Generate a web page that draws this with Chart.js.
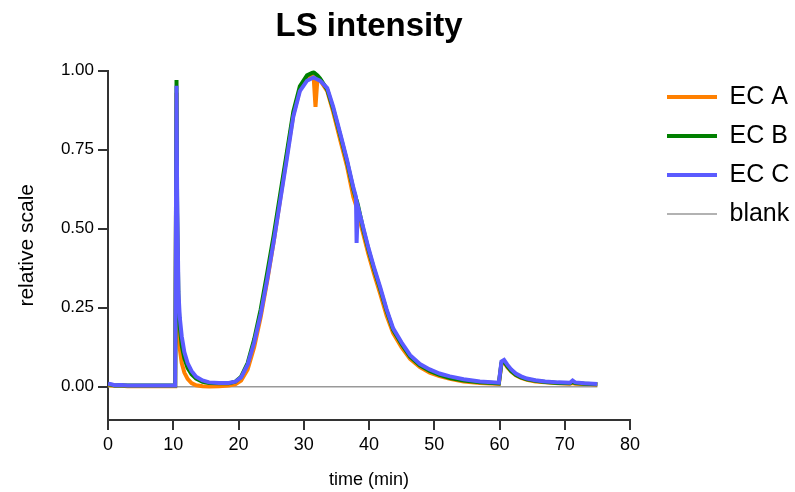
<!DOCTYPE html>
<html lang="en">
<head>
  <meta charset="UTF-8">
  <title>LS intensity</title>
  <script src="https://cdn.jsdelivr.net/npm/chart.js@4.4.1/dist/chart.umd.min.js"></script>
  <style>
    body { margin: 0; background: #fff; }
    #wrap { width: 795px; height: 492px; }
  </style>
</head>
<body>
  <div id="wrap"><canvas id="chart" width="795" height="492"></canvas></div>
  <script>
    // time (min), shared by the three EC traces
    const times = [0, 0.5, 1, 2, 3, 5, 7, 9, 10.3, 10.5,
      10.6, 10.8, 11.0, 11.3, 11.7, 12.2, 12.8, 13.5, 14.5, 15.5,
      17, 18.5, 19.5, 20.4, 21.4, 22.4, 23.4, 24.4, 25.4, 26.4,
      27.4, 28.4, 29.4, 30.5, 31.5, 31.8, 32.1, 32.5, 33.6, 34.5,
      35.6, 36.6, 37.6, 38.0, 38.1, 38.3, 39.1, 39.9, 40.8, 41.7,
      42.7, 43.7, 45, 46.3, 47.8, 49.3, 50.8, 52.4, 54.5, 57,
      59.9, 60.3, 60.7, 61.2, 61.8, 62.5, 63.3, 64.2, 65.5, 67,
      69, 70.8, 71.2, 71.6, 73, 75];

    const ecA = [0.006, 0.004, 0.003, 0.003, 0.002, 0.002, 0.002, 0.002, 0.002, 0.93,
      0.35, 0.19, 0.12, 0.075, 0.045, 0.025, 0.012, 0.005, 0.002, 0.001,
      0.002, 0.004, 0.008, 0.02, 0.055, 0.125, 0.22, 0.335, 0.46, 0.595,
      0.73, 0.86, 0.94, 0.975, 0.985, 0.885, 0.975, 0.97, 0.935, 0.87,
      0.78, 0.70, 0.60, 0.575, 0.57, 0.55, 0.485, 0.42, 0.355, 0.295,
      0.225, 0.17, 0.125, 0.088, 0.062, 0.045, 0.034, 0.025, 0.017, 0.012,
      0.009, 0.072, 0.078, 0.062, 0.048, 0.036, 0.028, 0.022, 0.017, 0.014,
      0.011, 0.010, 0.012, 0.010, 0.009, 0.007];

    const ecB = [0.008, 0.006, 0.004, 0.005, 0.004, 0.004, 0.004, 0.004, 0.004, 0.97,
      0.55, 0.27, 0.19, 0.13, 0.09, 0.06, 0.04, 0.026, 0.016, 0.012,
      0.011, 0.011, 0.016, 0.032, 0.075, 0.15, 0.245, 0.36, 0.48, 0.61,
      0.74, 0.87, 0.95, 0.985, 0.995, 0.99, 0.985, 0.975, 0.94, 0.88,
      0.795, 0.715, 0.625, 0.595, 0.59, 0.575, 0.50, 0.435, 0.37, 0.31,
      0.24, 0.18, 0.135, 0.095, 0.068, 0.05, 0.038, 0.028, 0.02, 0.014,
      0.011, 0.075, 0.08, 0.065, 0.05, 0.038, 0.03, 0.024, 0.019, 0.015,
      0.012, 0.011, 0.015, 0.012, 0.010, 0.008];

    const ecC = [0.010, 0.008, 0.005, 0.006, 0.004, 0.004, 0.004, 0.004, 0.004, 0.952,
      0.60, 0.30, 0.22, 0.16, 0.11, 0.075, 0.05, 0.032, 0.02, 0.014,
      0.012, 0.012, 0.016, 0.03, 0.07, 0.14, 0.23, 0.34, 0.46, 0.59,
      0.72, 0.855, 0.935, 0.968, 0.978, 0.975, 0.972, 0.968, 0.945, 0.886,
      0.80, 0.72, 0.63, 0.60, 0.455, 0.57, 0.505, 0.44, 0.375, 0.316,
      0.245, 0.185, 0.14, 0.10, 0.072, 0.055, 0.042, 0.033, 0.024, 0.017,
      0.013, 0.08, 0.085, 0.07, 0.055, 0.042, 0.033, 0.026, 0.021, 0.017,
      0.014, 0.013, 0.02, 0.014, 0.011, 0.009];

    const blankTimes = [0, 75];
    const blank = [0, 0];

    const xTicks = [0, 10, 20, 30, 40, 50, 60, 70, 80];
    const yTicks = [0, 0.25, 0.5, 0.75, 1.0];

    const toPts = (xs, ys) => xs.map((x, i) => ({ x: x, y: ys[i] }));
    const FONT = 'Liberation Sans, Arial, sans-serif';

    // legend sits a fixed distance right of the plot area
    const legendRight = {
      id: 'legendRight',
      afterLayout(chart) {
        const lg = chart.legend;
        lg.left = chart.chartArea.right + 23;
        lg.right = lg.left + lg.width;
      }
    };

    const ctx = document.getElementById('chart').getContext('2d');
    const myChart = new Chart(ctx, {
      type: 'line',
      data: {
        datasets: [
          { label: 'EC A', data: toPts(times, ecA), borderColor: '#ff8000', borderWidth: 4, order: 2 },
          { label: 'EC B', data: toPts(times, ecB), borderColor: '#008000', borderWidth: 4, order: 1 },
          { label: 'EC C', data: toPts(times, ecC), borderColor: '#5b5bff', borderWidth: 4, order: 0 },
          { label: 'blank', data: toPts(blankTimes, blank), borderColor: '#999999', borderWidth: 1.5, order: 3 }
        ]
      },
      options: {
        responsive: false,
        animation: false,
        elements: { point: { radius: 0 }, line: { tension: 0, fill: false } },
        layout: { padding: 0 },
        plugins: {
          tooltip: { enabled: false },
          title: {
            display: true,
            text: 'LS intensity',
            fullSize: false,
            color: '#000',
            font: { family: FONT, size: 33, weight: 'bold' },
            padding: { top: 7, bottom: 24 }
          },
          legend: {
            position: 'right',
            align: 'start',
            fullSize: false,
            labels: {
              usePointStyle: true,
              pointStyle: 'line',
              pointStyleWidth: 50,
              padding: 14,
              color: '#000',
              font: { family: FONT, size: 25 },
              sort: (a, b) => a.datasetIndex - b.datasetIndex
            }
          }
        },
        scales: {
          x: {
            type: 'linear',
            min: 0,
            max: 80,
            afterBuildTicks: s => { s.ticks = xTicks.map(v => ({ value: v })); },
            afterFit: s => { s.height = 72; s.paddingRight = 165; },
            ticks: { color: '#000', font: { family: FONT, size: 18 }, padding: 4, maxRotation: 0 },
            grid: { drawOnChartArea: false, tickLength: 10, color: '#333', lineWidth: 2 },
            border: { color: '#333', width: 2 },
            title: { display: true, text: 'time (min)', color: '#000', font: { family: FONT, size: 18 }, padding: { top: 4, bottom: 1 } }
          },
          y: {
            min: -0.105,
            max: 1.0,
            afterBuildTicks: s => { s.ticks = yTicks.map(v => ({ value: v })); },
            afterFit: s => { s.width = 108; },
            ticks: { color: '#000', font: { family: FONT, size: 17 }, padding: 4, callback: v => v.toFixed(2) },
            grid: { drawOnChartArea: false, tickLength: 10, color: '#333', lineWidth: 2 },
            border: { color: '#333', width: 2 },
            title: { display: true, text: 'relative scale', color: '#000', font: { family: FONT, size: 21 }, padding: { top: 15, bottom: 4 } }
          }
        }
      },
      plugins: [legendRight]
    });
  </script>
</body>
</html>
